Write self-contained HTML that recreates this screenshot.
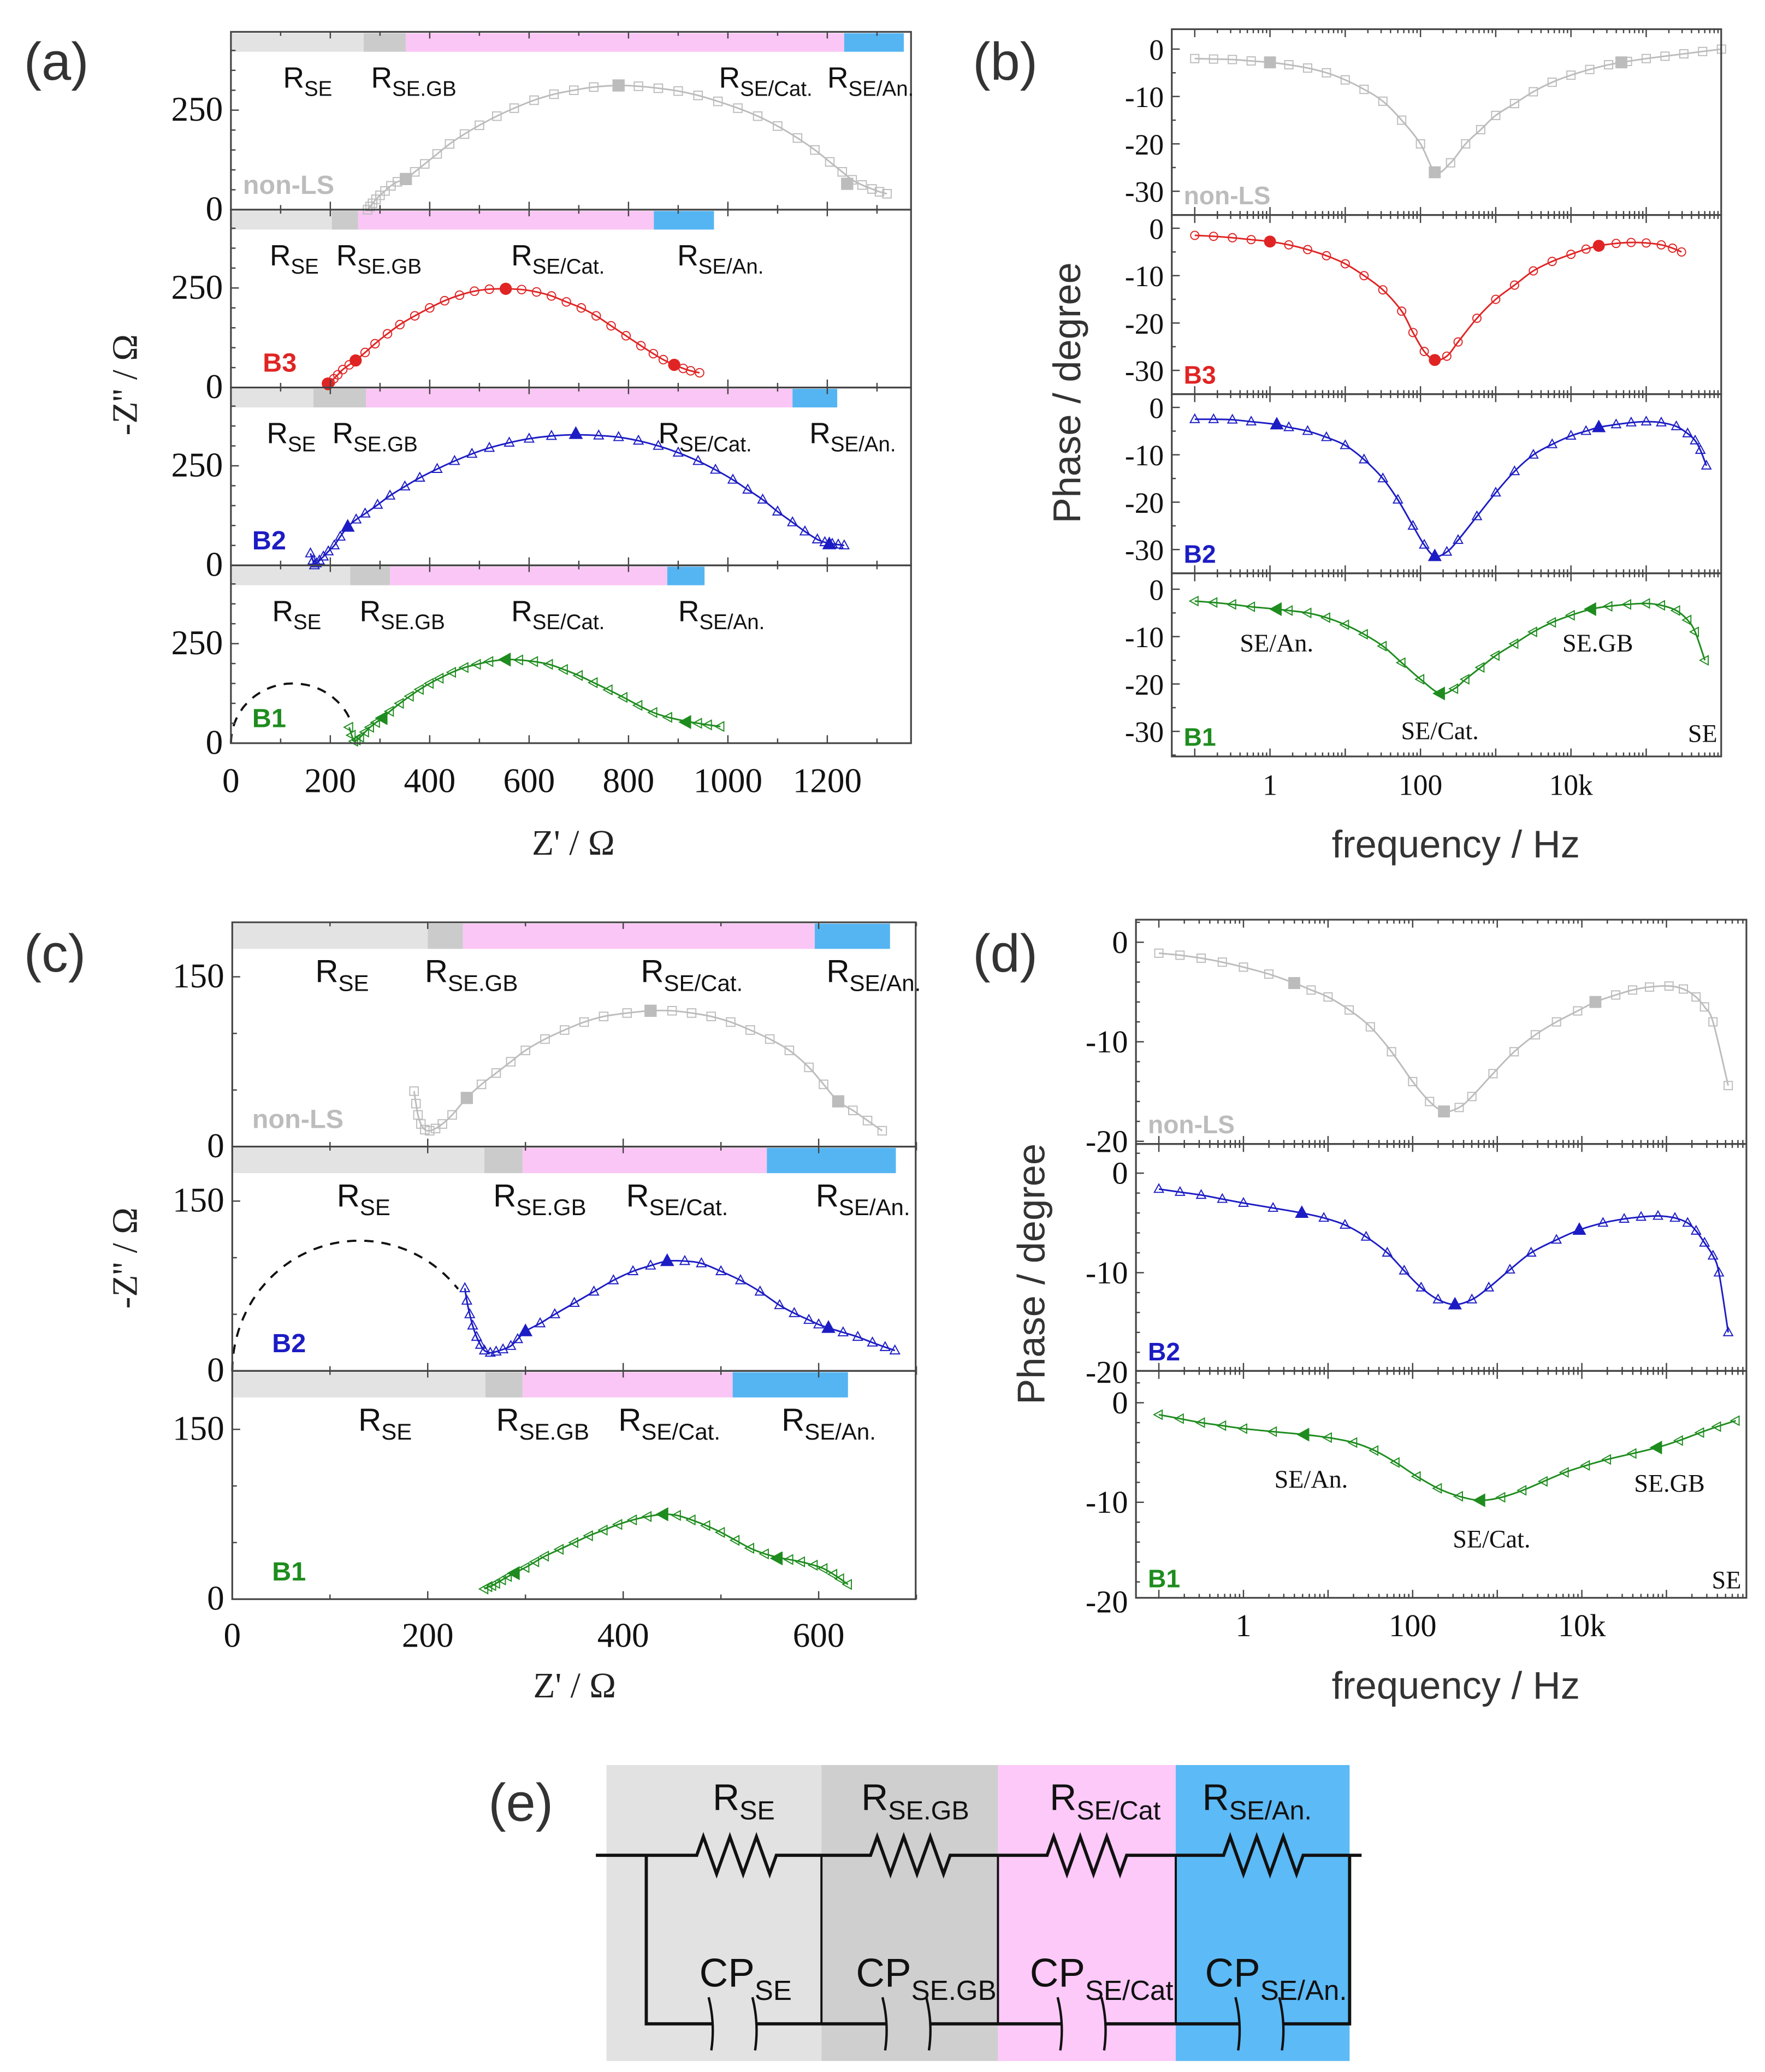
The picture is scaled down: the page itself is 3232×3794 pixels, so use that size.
<!DOCTYPE html>
<html><head><meta charset="utf-8">
<style>
html,body{margin:0;padding:0;background:#fff;}
svg{display:block;}
.serif{font-family:"Liberation Serif",serif;}
.sans{font-family:"Liberation Sans",sans-serif;}
</style></head>
<body>
<svg id="fig" xmlns="http://www.w3.org/2000/svg" width="3232" height="3794" viewBox="0 0 1330 1561.3">
<rect x="0" y="0" width="1330" height="1561.3" fill="#fff"/>
<g id="bg"></g>
<g id="marks"></g>
<g id="fg"></g>
</svg>
<script>
// ---------- Panel (a) Nyquist data (Z' in ohm, -Z'' in ohm) ----------
const aNonLS_Z=[275,280,285,292,300,310,322,335,352,370,390,415,440,470,500,535,570,610,650,690,730,780,820,860,900,940,980,1020,1060,1100,1140,1175,1205,1230,1250,1270,1290,1305,1320];
const aNonLS_Y=[0,8,16,26,36,47,60,70,77,95,115,140,165,190,212,235,255,275,290,300,308,312,310,305,298,287,272,255,235,210,180,150,120,95,75,62,52,45,40];
const aNonLS_FZ=[352,780,1240];
const aNonLS_FY=[77,312,65];
const aB3_Z=[195,200,207,215,225,238,251,270,290,315,340,370,400,430,460,490,520,553,585,615,645,675,705,735,765,795,825,850,870,892,910,925,943];
const aB3_Y=[5,12,22,32,45,57,68,88,110,135,158,180,200,218,232,242,247,248,246,240,230,215,200,180,155,130,105,85,70,57,48,42,37];
const aB3_FZ=[195,251,553,892];
const aB3_FY=[10,68,248,57];
const aB2_Z=[160,165,168,172,178,186,196,208,220,235,252,270,295,320,350,380,415,450,485,520,560,600,645,694,740,780,820,860,900,940,975,1010,1040,1070,1100,1130,1155,1180,1195,1210,1222,1234];
const aB2_Y=[30,12,0,5,12,22,35,50,72,97,115,130,152,175,198,220,242,262,280,295,308,318,325,328,326,322,313,300,283,262,240,215,190,165,135,108,85,65,58,54,52,50];
const aB2_FZ=[235,694,1204];
const aB2_FY=[97,330,53];
const aB1_Z=[238,243,248,253,260,270,280,292,305,320,340,360,380,400,420,445,470,495,520,553,580,610,640,670,700,730,760,790,820,850,880,916,940,960,985];
const aB1_Y=[40,20,5,8,15,28,40,52,63,80,100,118,135,150,163,178,190,198,205,210,209,205,198,185,170,152,134,115,95,77,65,55,50,46,42];
const aB1_FZ=[305,553,916];
const aB1_FY=[63,210,53];
const aBars_nonLS=[0,267,352,1234,1354];
const aBars_B3=[0,203,256,851,972];
const aBars_B2=[0,166,272,1130,1220];
const aBars_B1=[0,240,320,878,953];
const aXTicks=[0,200,400,600,800,1000,1200];
const aYTicks=[0,250];

// ---------- Panel (b) Bode phase data (log10 f, degree) ----------
const bNonLS_F=[-1,-0.75,-0.5,-0.25,0,0.25,0.5,0.75,1,1.25,1.5,1.75,2,2.2,2.4,2.6,2.8,3,3.25,3.5,3.75,4,4.25,4.5,4.75,5,5.25,5.5,5.75,6];
const bNonLS_P=[-2,-2.1,-2.2,-2.5,-2.8,-3.3,-4,-5,-6.5,-8.5,-11,-15,-20,-26,-24,-20,-17,-14,-11.5,-9,-7,-5.5,-4.3,-3.3,-2.6,-2,-1.5,-1,-0.5,0];
const bNonLS_FF=[0,2.19,4.67];
const bNonLS_FP=[-2.8,-26,-2.8];
const bB3_F=[-1,-0.75,-0.5,-0.25,0,0.25,0.5,0.75,1,1.25,1.5,1.75,1.9,2.05,2.19,2.35,2.5,2.75,3,3.25,3.5,3.75,4,4.2,4.37,4.6,4.8,5,5.2,5.35,5.47];
const bB3_P=[-1.5,-1.7,-2,-2.4,-2.8,-3.5,-4.5,-5.8,-7.5,-10,-13,-17.5,-22,-26,-27.8,-27,-24,-19,-15,-12,-9,-7,-5.5,-4.4,-3.7,-3.2,-3,-3.1,-3.5,-4.2,-5];
const bB3_FF=[0,2.19,4.37];
const bB3_FP=[-2.8,-27.8,-3.7];
const bB2_F=[-1,-0.75,-0.5,-0.25,0.09,0.25,0.5,0.75,1,1.25,1.5,1.7,1.9,2.05,2.19,2.35,2.5,2.75,3,3.25,3.5,3.75,4,4.2,4.37,4.6,4.8,5,5.2,5.4,5.55,5.65,5.72,5.8];
const bB2_P=[-2.5,-2.5,-2.6,-3,-3.6,-4.2,-5,-6.3,-8,-11,-15,-19.5,-25,-29,-31.4,-30.5,-28,-23,-18,-13.5,-10,-7.8,-6,-5,-4.2,-3.6,-3.2,-3,-3.2,-4,-5.5,-7,-9,-12.3];
const bB2_FF=[0.09,2.19,4.37];
const bB2_FP=[-3.6,-31.4,-4.2];
const bB1_F=[-1,-0.75,-0.5,-0.25,0.09,0.25,0.5,0.75,1,1.25,1.5,1.75,2,2.26,2.45,2.6,2.8,3,3.25,3.5,3.75,4,4.27,4.5,4.75,5,5.2,5.4,5.55,5.65,5.78];
const bB1_P=[-2.5,-2.8,-3.2,-3.7,-4.2,-4.5,-5,-6,-7.5,-9.5,-12,-15.5,-19,-22,-21,-19,-16.5,-14,-11.5,-9,-7,-5.5,-4.2,-3.6,-3.2,-3,-3.4,-4.5,-6.5,-9,-15];
const bB1_FF=[0.09,2.26,4.27];
const bB1_FP=[-4.2,-22,-4.2];
const bYTicks=[0,-10,-20,-30];
const bXTickLabels=["1","100","10k"];
const bXTickLogs=[0,2,4];

// ---------- Panel (c) Nyquist data ----------
const cNonLS_Z=[186,188,190,193,197,202,208,215,225,240,255,270,285,300,320,340,360,380,404,428,450,470,490,510,530,550,570,590,605,620,635,650,665];
const cNonLS_Y=[49,38,28,20,15,14,16,20,28,43,55,65,75,85,95,103,110,115,118,120,120,118,115,110,103,95,85,70,55,40,32,23,14];
const cNonLS_FZ=[240,428,620];
const cNonLS_FY=[43,120,40];
const cB2_Z=[238,240,243,246,250,254,258,264,270,277,285,292,300,315,330,350,370,390,410,428,445,463,480,500,520,540,560,575,590,600,610,625,640,655,668,678];
const cB2_Y=[73,62,50,40,30,23,18,16,17,19,22,28,35,42,50,60,70,80,88,93,97,97,95,88,80,70,58,51,45,41,38,34,30,25,21,18];
const cB2_FZ=[300,445,610];
const cB2_FY=[35,97,38];
const cB1_Z=[258,262,266,270,276,282,289,300,310,320,335,350,365,380,395,410,425,441,455,470,485,500,515,530,545,558,570,582,595,605,615,622,630];
const cB1_Y=[9,11,12,14,17,20,23,28,33,38,44,50,56,61,66,70,73,75,74,70,65,59,52,45,40,37,35,33,30,27,22,18,13];
const cB1_FZ=[289,441,558];
const cB1_FY=[23,75,36];
const cBars_nonLS=[0,200,236,596,673];
const cBars_B2=[0,258,297,547,679];
const cBars_B1=[0,259,297,512,630];
const cXTicks=[0,200,400,600];
const cYTicks=[0,150];

// ---------- Panel (d) Bode phase data ----------
const dNonLS_F=[-1,-0.75,-0.5,-0.25,0,0.3,0.6,0.8,1,1.25,1.5,1.75,2,2.2,2.37,2.55,2.7,2.95,3.2,3.45,3.7,3.95,4.16,4.4,4.6,4.8,5.03,5.2,5.35,5.45,5.55,5.73];
const dNonLS_P=[-1.1,-1.3,-1.6,-2,-2.5,-3.2,-4.1,-4.8,-5.5,-6.8,-8.5,-11,-14,-16,-17,-16.6,-15.5,-13.2,-11,-9.3,-8,-6.9,-6,-5.3,-4.8,-4.5,-4.4,-4.7,-5.5,-6.5,-8,-14.4];
const dNonLS_FF=[0.6,2.37,4.16];
const dNonLS_FP=[-4.1,-17,-6];
const dB2_F=[-1,-0.75,-0.5,-0.25,0,0.35,0.69,0.95,1.2,1.45,1.7,1.9,2.1,2.3,2.5,2.7,2.9,3.15,3.4,3.7,3.97,4.25,4.5,4.7,4.9,5.1,5.25,5.35,5.45,5.55,5.62,5.73];
const dB2_P=[-1.6,-1.9,-2.2,-2.6,-3,-3.5,-4,-4.5,-5.2,-6.4,-8,-9.8,-11.5,-12.7,-13.2,-12.7,-11.5,-9.7,-8,-6.7,-5.7,-5,-4.6,-4.4,-4.3,-4.5,-5,-5.8,-7,-8.3,-10,-16];
const dB2_FF=[0.69,2.5,3.97];
const dB2_FP=[-4,-13.2,-5.7];
const dB1_F=[-1,-0.75,-0.5,-0.25,0,0.35,0.72,1,1.3,1.55,1.8,2.05,2.3,2.55,2.8,3.05,3.3,3.55,3.8,4.05,4.3,4.6,4.89,5.15,5.4,5.6,5.82];
const dB1_P=[-1.2,-1.6,-2,-2.3,-2.6,-2.9,-3.2,-3.5,-4,-4.8,-6,-7.4,-8.6,-9.4,-9.8,-9.5,-8.8,-7.9,-7,-6.3,-5.7,-5.1,-4.5,-3.8,-3,-2.4,-1.8];
const dB1_FF=[0.72,2.8,4.89];
const dB1_FP=[-3.2,-9.8,-4.5];
const dYTicks=[0,-10,-20];

const NS="http://www.w3.org/2000/svg";
const BG=document.getElementById('bg'), MK=document.getElementById('marks'), FG=document.getElementById('fg');
function mk(tag,parent){const e=document.createElementNS(NS,tag);parent.appendChild(e);return e;}
function setA(e,o){for(const k in o)e.setAttribute(k,o[k]);}
const COL={gray:"#bcbcbc",red:"#e02424",blue:"#1c1cc4",green:"#1e8c1e"};
const BARCOL=["#e3e3e3","#cbcbcb","#fac6f5","#55b5f2"];

function smoothPath(px,py){
  let d="M"+px[0].toFixed(2)+","+py[0].toFixed(2);
  for(let i=0;i<px.length-1;i++){
    const p0x=px[Math.max(i-1,0)],p0y=py[Math.max(i-1,0)];
    const p3x=px[Math.min(i+2,px.length-1)],p3y=py[Math.min(i+2,px.length-1)];
    const c1x=px[i]+(px[i+1]-p0x)/6,c1y=py[i]+(py[i+1]-p0y)/6;
    const c2x=px[i+1]-(p3x-px[i])/6,c2y=py[i+1]-(p3y-py[i])/6;
    d+=" C"+c1x.toFixed(2)+","+c1y.toFixed(2)+" "+c2x.toFixed(2)+","+c2y.toFixed(2)+" "+px[i+1].toFixed(2)+","+py[i+1].toFixed(2);
  }
  return d;
}
function marker(shape,cx,cy,s,color,filled){
  let e;
  if(shape==="sq"){e=mk('rect',MK);setA(e,{x:cx-s,y:cy-s,width:2*s,height:2*s});}
  else if(shape==="ci"){e=mk('circle',MK);setA(e,{cx:cx,cy:cy,r:s});}
  else if(shape==="up"){e=mk('polygon',MK);setA(e,{points:`${cx},${cy-s*1.2} ${cx-s*1.1},${cy+s*0.8} ${cx+s*1.1},${cy+s*0.8}`});}
  else {e=mk('polygon',MK);setA(e,{points:`${cx-s*1.2},${cy} ${cx+s*0.8},${cy-s*1.1} ${cx+s*0.8},${cy+s*1.1}`});}
  setA(e,{fill:filled?color:"none",stroke:color,"stroke-width":0.8});
  
  
}
function series(xs,ys,fx,fy,X,Y,color,shape,s){
  const px=xs.map(X),py=ys.map(Y);
  const p=mk('path',MK);
  setA(p,{d:smoothPath(px,py),fill:"none",stroke:color,"stroke-width":1.2});
  
  
  for(let i=0;i<px.length;i++)marker(shape,px[i],py[i],s,color,false);
  for(let i=0;i<fx.length;i++)marker(shape,X(fx[i]),Y(fy[i]),s+1,color,true);
}
function text(parent,x,y,str,cls,size,anchor,fill,weight){
  const t=mk('text',parent);
  setA(t,{x:x,y:y,"class":cls,"font-size":size,"text-anchor":anchor||"start",fill:fill||"#111"});
  if(weight)t.setAttribute('font-weight',weight);
  t.textContent=str;
  return t;
}
function rlabel(x,y,main,sub,size){
  const t=mk('text',FG);
  setA(t,{x:x,y:y,"class":"sans","font-size":size,fill:"#111"});
  const a=mk('tspan',t);a.textContent=main;
  const b=mk('tspan',t);setA(b,{dy:size*0.28,"font-size":size*0.72});b.textContent=sub;
  
  
}
function frame(x0,y0,x1,y1){
  const r=mk('rect',FG);
  setA(r,{x:x0,y:y0,width:x1-x0,height:y1-y0,fill:"none",stroke:"#444","stroke-width":1.3});
  
  
}
function tick(x1,y1,x2,y2,w){
  const l=mk('line',FG);
  setA(l,{x1:x1,y1:y1,x2:x2,y2:y2,stroke:"#444","stroke-width":w||1});
  
  
}

// ===== Nyquist panels =====
function nyquist(cfg){
  const X=z=>cfg.x0+z*cfg.sx;
  cfg.subs.forEach((sb,i)=>{
    const top=cfg.tops[i],bot=cfg.tops[i+1];
    const Y=v=>bot-v*cfg.sy;
    for(let k=0;k<4;k++){
      const r=mk('rect',BG);
      setA(r,{x:X(sb.bars[k]),y:top+1,width:X(sb.bars[k+1])-X(sb.bars[k]),height:cfg.barH,fill:BARCOL[k]});
      
      
    }
    frame(cfg.x0,top,cfg.x1,bot);
    for(let v=0;v<=cfg.xMax;v+=cfg.xMinor){
      const major=(v%(cfg.xMinor*2)===0);
      tick(X(v),bot,X(v),bot-(major?6:3.5));
      tick(X(v),top,X(v),top+(major?5:3));
    }
    for(let v=0;v*cfg.sy<bot-top-2;v+=cfg.yMinor){
      const major=cfg.yTicks.indexOf(v)>=0;
      tick(cfg.x0,Y(v),cfg.x0+(major?6:3.5),Y(v));
    }
    cfg.yTicks.forEach(v=>{
      const t=text(FG,cfg.x0-6,Y(v)+8,String(v),"serif",cfg.tickFs,"end");
      
      
    });
    if(sb.dash){
      const d=sb.dash,pts=[];
      for(let a=180;a>=d.end;a-=3){const r=a*Math.PI/180;pts.push([X(d.c+d.rx*Math.cos(r)),Y(d.ry*Math.sin(r))]);}
      const p=mk('polyline',MK);
      setA(p,{points:pts.map(q=>q[0].toFixed(1)+","+q[1].toFixed(1)).join(" "),fill:"none",stroke:"#111","stroke-width":1.6,"stroke-dasharray":"7,6"});
      
      
    }
    series(sb.z,sb.y,sb.fz,sb.fy,X,Y,sb.color,sb.shape,3.2);
    sb.labels.forEach(l=>rlabel(X(l[0]),top+cfg.labOff,"R",l[1],cfg.labFs));
    const t=text(FG,sb.nameX,bot-cfg.nameOff,sb.name,"sans",20,"start",sb.color,"bold");
    
    
  });
  const B=cfg.tops[cfg.tops.length-1];
  cfg.xTicks.forEach(v=>{
    const t=text(FG,X(v),B+cfg.xLabOff,String(v),"serif",cfg.tickFs,"middle");
    
    
  });
}
nyquist({x0:174,x1:686.5,sx:0.3745,sy:0.3,tops:[24,158,292,426,560],barH:14,xMax:1360,xMinor:100,yMinor:50,yTicks:aYTicks,xTicks:aXTicks,tickFs:26,xLabOff:37,labOff:42,labFs:22,nameOff:12,
 subs:[
  {bars:aBars_nonLS,z:aNonLS_Z,y:aNonLS_Y,fz:aNonLS_FZ,fy:aNonLS_FY,color:COL.gray,shape:"sq",name:"non-LS",nameX:183,labels:[[105,"SE"],[282,"SE.GB"],[982,"SE/Cat."],[1200,"SE/An."]]},
  {bars:aBars_B3,z:aB3_Z,y:aB3_Y,fz:aB3_FZ,fy:aB3_FY,color:COL.red,shape:"ci",name:"B3",nameX:198,labels:[[78,"SE"],[212,"SE.GB"],[564,"SE/Cat."],[898,"SE/An."]]},
  {bars:aBars_B2,z:aB2_Z,y:aB2_Y,fz:aB2_FZ,fy:aB2_FY,color:COL.blue,shape:"up",name:"B2",nameX:190,labels:[[72,"SE"],[204,"SE.GB"],[860,"SE/Cat."],[1164,"SE/An."]]},
  {bars:aBars_B1,z:aB1_Z,y:aB1_Y,fz:aB1_FZ,fy:aB1_FY,color:COL.green,shape:"lt",name:"B1",nameX:190,dash:{c:125,rx:125,ry:150,end:20},labels:[[83,"SE"],[259,"SE.GB"],[564,"SE/Cat."],[900,"SE/An."]]}
 ]});
nyquist({x0:175,x1:690,sx:0.7365,sy:0.853,tops:[695,864,1033,1205],barH:19,xMax:700,xMinor:100,yMinor:50,yTicks:cYTicks,xTicks:cXTicks,tickFs:26,xLabOff:36,labOff:45,labFs:24,nameOff:14,
 subs:[
  {bars:cBars_nonLS,z:cNonLS_Z,y:cNonLS_Y,fz:cNonLS_FZ,fy:cNonLS_FY,color:COL.gray,shape:"sq",name:"non-LS",nameX:190,labels:[[85,"SE"],[197,"SE.GB"],[418,"SE/Cat."],[608,"SE/An."]]},
  {bars:cBars_B2,z:cB2_Z,y:cB2_Y,fz:cB2_FZ,fy:cB2_FY,color:COL.blue,shape:"up",name:"B2",nameX:205,dash:{c:130,rx:130,ry:115,end:38},labels:[[107,"SE"],[267,"SE.GB"],[403,"SE/Cat."],[597,"SE/An."]]},
  {bars:cBars_B1,z:cB1_Z,y:cB1_Y,fz:cB1_FZ,fy:cB1_FY,color:COL.green,shape:"lt",name:"B1",nameX:205,labels:[[129,"SE"],[270,"SE.GB"],[395,"SE/Cat."],[562,"SE/An."]]}
 ]});

// ===== Bode panels =====
function bode(cfg){
  const X=l=>cfg.f0+l*cfg.dec;
  cfg.subs.forEach((sb,i)=>{
    const top=cfg.tops[i],bot=cfg.tops[i+1];
    const Y=p=>cfg.zero[i]-p*cfg.sy;
    frame(cfg.x0,top,cfg.x1,bot);
    for(let d=-1;d<=6;d++){
      for(let m=1;m<10;m++){
        const x=X(d+Math.log10(m));
        if(x<cfg.x0+1||x>cfg.x1-1)continue;
        const major=(m===1);
        tick(x,bot,x,bot-(major?6:3));
        tick(x,top,x,top+(major?6:3));
      }
    }
    for(let p=0;Y(p)>top+1;p+=cfg.yMinor)tick(cfg.x0,Y(p),cfg.x0+(p%10===0?6:3),Y(p));
    for(let p=-cfg.yMinor;Y(p)<bot-1;p-=cfg.yMinor)tick(cfg.x0,Y(p),cfg.x0+(p%10===0?6:3),Y(p));
    cfg.yTicks.forEach(v=>{
      const t=text(FG,cfg.x0-6,Y(v)+8,String(v),"serif",cfg.tickFs,"end");
      
      
    });
    series(sb.f,sb.p,sb.ff,sb.fp,X,Y,sb.color,sb.shape,3.1);
    const t=text(FG,cfg.x0+9,bot-8,sb.name,"sans",19,"start",sb.color,"bold");
    
    
  });
  const B=cfg.tops[cfg.tops.length-1];
  bXTickLogs.forEach((l,k)=>{
    const t=text(FG,X(l),B+29,bXTickLabels[k],"serif",cfg.tickFs,"middle");
    
    
  });
  cfg.ann.forEach(a=>{
    const t=text(FG,a[0],a[1],a[2],"serif",19,"middle");
    
    
  });
}
bode({x0:883,x1:1297,f0:957,dec:56.7,sy:3.57,yMinor:5,tops:[22,162,297,432,570],zero:[37,172,307,444],yTicks:bYTicks,tickFs:22,
 subs:[
  {f:bNonLS_F,p:bNonLS_P,ff:bNonLS_FF,fp:bNonLS_FP,color:COL.gray,shape:"sq",name:"non-LS"},
  {f:bB3_F,p:bB3_P,ff:bB3_FF,fp:bB3_FP,color:COL.red,shape:"ci",name:"B3"},
  {f:bB2_F,p:bB2_P,ff:bB2_FF,fp:bB2_FP,color:COL.blue,shape:"up",name:"B2"},
  {f:bB1_F,p:bB1_P,ff:bB1_FF,fp:bB1_FP,color:COL.green,shape:"lt",name:"B1"}
 ],
 ann:[[962,491,"SE/An."],[1204,491,"SE.GB"],[1085,557,"SE/Cat."],[1283,559,"SE"]]});
bode({x0:856,x1:1316,f0:937,dec:63.75,sy:7.5,yMinor:2,tops:[693,862,1033,1204],zero:[710,884,1057],yTicks:dYTicks,tickFs:24,
 subs:[
  {f:dNonLS_F,p:dNonLS_P,ff:dNonLS_FF,fp:dNonLS_FP,color:COL.gray,shape:"sq",name:"non-LS"},
  {f:dB2_F,p:dB2_P,ff:dB2_FF,fp:dB2_FP,color:COL.blue,shape:"up",name:"B2"},
  {f:dB1_F,p:dB1_P,ff:dB1_FF,fp:dB1_FP,color:COL.green,shape:"lt",name:"B1"}
 ],
 ann:[[988,1121,"SE/An."],[1258,1124,"SE.GB"],[1124,1166,"SE/Cat."],[1301,1197,"SE"]]});
</script>

<svg style="position:absolute;left:0;top:0" width="3232" height="3794" viewBox="0 0 1330 1561.3">
 <g font-family="Liberation Sans, sans-serif" fill="#333">
  <text x="18" y="60" font-size="40">(a)</text>
  <text x="733" y="60" font-size="40">(b)</text>
  <text x="18" y="732" font-size="40">(c)</text>
  <text x="733" y="732" font-size="40">(d)</text>
  <text x="368" y="1372" font-size="40">(e)</text>
 </g>
 <g font-family="Liberation Serif, serif" fill="#222" font-size="27">
  <text x="432" y="644" text-anchor="middle">Z' / Ω</text>
  <text transform="translate(103,290) rotate(-90)" text-anchor="middle">-Z'' / Ω</text>
  <text x="433" y="1279" text-anchor="middle">Z' / Ω</text>
  <text transform="translate(103,948) rotate(-90)" text-anchor="middle">-Z'' / Ω</text>
 </g>
 <g font-family="Liberation Sans, sans-serif" fill="#333" font-size="29">
  <text x="1097" y="646" text-anchor="middle">frequency / Hz</text>
  <text transform="translate(814,296) rotate(-90)" text-anchor="middle">Phase / degree</text>
  <text x="1097" y="1280" text-anchor="middle">frequency / Hz</text>
  <text transform="translate(787,960) rotate(-90)" text-anchor="middle">Phase / degree</text>
 </g>
 <g>
  <rect x="457" y="1330" width="162" height="223" fill="#e2e2e2"/>
  <rect x="619" y="1330" width="133" height="223" fill="#cfcfcf"/>
  <rect x="752" y="1330" width="134" height="223" fill="#fcc9f8"/>
  <rect x="886" y="1330" width="131" height="223" fill="#5cbaf6"/>
  <g stroke="#111" fill="none">
   <path d="M449,1398 H525 l5,-14 l10,28 l10,-28 l10,28 l10,-28 l10,28 l5,-14 H656 l5,-14 l10,28 l10,-28 l10,28 l10,-28 l10,28 l5,-14 H789 l5,-14 l10,28 l10,-28 l10,28 l10,-28 l10,28 l5,-14 H922 l5,-14 l10,28 l10,-28 l10,28 l10,-28 l10,28 l5,-14 H1026" stroke-width="2.4"/>
   <path d="M487,1398 V1525 H537 M570,1525 H668 M701,1525 H800 M833,1525 H934 M967,1525 H1017 V1398" stroke-width="2.4"/>
   <path d="M619,1398 V1525 M752,1398 V1525 M886,1398 V1525" stroke-width="1.6"/>
   <path d="M534,1505 Q539,1525 536,1545 M567,1505 Q572,1525 569,1545 M665,1505 Q670,1525 667,1545 M698,1505 Q703,1525 700,1545 M797,1505 Q802,1525 799,1545 M830,1505 Q835,1525 832,1545 M931,1505 Q936,1525 933,1545 M964,1505 Q969,1525 966,1545" stroke-width="1.8"/>
  </g>
  <g font-family="Liberation Sans, sans-serif" fill="#111">
   <text x="537" y="1364" font-size="28">R<tspan dy="7" font-size="20">SE</tspan></text>
   <text x="649" y="1364" font-size="28">R<tspan dy="7" font-size="20">SE.GB</tspan></text>
   <text x="791" y="1364" font-size="28">R<tspan dy="7" font-size="20">SE/Cat</tspan></text>
   <text x="906" y="1364" font-size="28">R<tspan dy="7" font-size="20">SE/An.</tspan></text>
   <text x="527" y="1497" font-size="30">CP<tspan dy="10" font-size="21">SE</tspan></text>
   <text x="645" y="1497" font-size="30">CP<tspan dy="10" font-size="21">SE.GB</tspan></text>
   <text x="776" y="1497" font-size="30">CP<tspan dy="10" font-size="21">SE/Cat</tspan></text>
   <text x="908" y="1497" font-size="30">CP<tspan dy="10" font-size="21">SE/An.</tspan></text>
  </g>
 </g>
</svg>
</body></html>
